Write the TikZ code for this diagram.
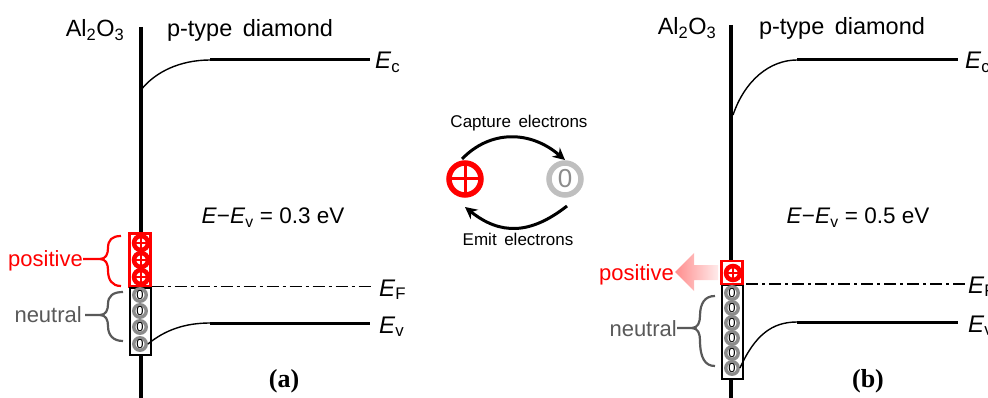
\documentclass[tikz,border=0pt]{standalone}
\usepackage{fontspec}
\setmainfont{Liberation Sans}
\newfontfamily\labelserif{Liberation Serif}
\usetikzlibrary{arrows.meta,shadings}
\definecolor{neutralgray}{RGB}{89,89,89}
\definecolor{ringgray}{RGB}{140,140,140}
\definecolor{lightring}{RGB}{191,191,191}
\tikzset{
  axisline/.style={line width=3.6pt,black},
  bandline/.style={line width=3pt,black},
  bandcurve/.style={line width=1.4pt,black},
  fermi/.style={line width=1.5pt,dash pattern=on 12pt off 4pt on 3pt off 4pt},
  redbox/.style={draw=red,line width=2.2pt,fill=white,inner sep=0pt},
  blackbox/.style={draw=black,line width=2pt,fill=white,inner sep=0pt},
  lbl/.style={font=\fontsize{22.5}{26}\selectfont,inner sep=0pt,anchor=base},
  sidelbl/.style={font=\fontsize{22}{26}\selectfont,inner sep=0pt,anchor=base east},
  head/.style={font=\fontsize{23.5}{28}\selectfont,inner sep=0pt,anchor=base},
  band/.style={font=\fontsize{24}{26}\selectfont,inner sep=0pt,anchor=base west},
  smalllbl/.style={font=\fontsize{17}{20}\selectfont,inner sep=0pt,anchor=base},
  panel/.style={font=\labelserif\bfseries\fontsize{26}{28}\selectfont,inner sep=0pt,anchor=base},
  posbubble/.style={circle,draw=red,line width=4.5pt,fill=white,minimum size=14pt,inner sep=0pt,
    path picture={\draw[red,line width=2.6pt] (path picture bounding box.north)--(path picture bounding box.south) (path picture bounding box.west)--(path picture bounding box.east);}},
  zerobubble/.style={circle,draw=ringgray,line width=3.4pt,fill=white,minimum size=12.5pt,inner sep=0pt,font=\fontsize{13}{13}\selectfont,text=black},
  bigpos/.style={circle,draw=red,line width=5.5pt,fill=white,minimum size=32pt,inner sep=0pt,
    path picture={\draw[red,line width=3pt] (path picture bounding box.north)--(path picture bounding box.south) (path picture bounding box.west)--(path picture bounding box.east);}},
  bigzero/.style={circle,draw=lightring,line width=5.5pt,fill=white,minimum size=32pt,inner sep=0pt,font=\fontsize{26}{26}\selectfont,text=ringgray},
  cyclearrow/.style={line width=3pt,black,-{Stealth[length=12pt,width=12pt]}},
  bracered/.style={red,line width=2.2pt},
  bracegray/.style={neutralgray,line width=2.2pt},
}
\newcommand{\Evar}[1]{\textit{E}\textsubscript{#1}}
\begin{document}
\begin{tikzpicture}[x=1pt,y=-1pt]
\useasboundingbox (0,0) rectangle (988,398);
% ---------- panel (a)
\draw[axisline] (141,27) -- (141,398);
\node[head] (a-al) at (95,37) {Al\textsubscript{2}O\textsubscript{3}};
\node[head] (a-pt) at (250,37) {p-type\, diamond};
\coordinate (a-c0) at (141,90); \coordinate (a-c1) at (210,60);
\node[band] (a-ec) at (375,69) {\Evar{c}};
\draw[bandcurve] (a-c0) .. controls (155,72) and (180,60) .. (a-c1);
\draw[bandline] (a-c1) -- ([xshift=-5pt]a-ec.west |- a-c1);
\node[lbl] (a-e) at (273,224) {\textit{E}−\Evar{v} = 0.3 eV};
\node[band] (a-ef) at (379,296) {\Evar{F}};
\node[band] (a-ev) at (379,333) {\Evar{v}};
\node[redbox,minimum width=21pt,minimum height=53pt] (a-rb) at (140,260) {};
\node[blackbox,minimum width=21pt,minimum height=67pt] (a-bb) at (140,321) {};
\draw[fermi] (a-bb.north east) -- ([xshift=-7pt]a-ef.west |- a-bb.north east);
\node[posbubble] (a-p1) at (141,243) {};
\node[posbubble] (a-p2) at (141,260) {};
\node[posbubble] (a-p3) at (141,277) {};
\node[zerobubble] (a-z1) at (140,295) {0};
\node[zerobubble] (a-z2) at (140,311) {0};
\node[zerobubble] (a-z3) at (140,327) {0};
\node[zerobubble] (a-z4) at (140,344) {0};
\coordinate (a-v1) at (210,323);
\draw[bandcurve] (a-z4.east) .. controls (165,330) and (185,323) .. (a-v1);
\draw[bandline] (a-v1) -- (370,323);
\node[sidelbl,text=red] (a-pos) at (83,266) {positive};
\node[sidelbl,text=neutralgray] (a-neu) at (82,322) {neutral};
\draw[bracered] (a-pos.east |- 0,259) -- (100,259) .. controls (106,259) and (108,254) .. (108,248) .. controls (108,240) and (112,236) .. (121,236);
\draw[bracered] (100,259) .. controls (106,259) and (108,264) .. (108,270) .. controls (108,280) and (112,286) .. (121,286);
\draw[bracegray] (85,315) -- (100,315) .. controls (106,315) and (108,310) .. (108,304) .. controls (108,296) and (113,292) .. (123,292);
\draw[bracegray] (100,315) .. controls (106,315) and (108,320) .. (108,326) .. controls (108,335) and (113,341) .. (123,341);
\node[panel] (a-lab) at (284,387) {(a)};
% ---------- centre
\node[bigpos] (c-p) at (465,179) {};
\node[bigzero] (c-z) at (565,179) {0};
\coordinate (c-ts) at (462,159); \coordinate (c-te) at (565,160);
\coordinate (c-bs) at (567,206); \coordinate (c-be) at (465,207);
\draw[cyclearrow] (c-ts) .. controls (490,130) and (530,130) .. (c-te);
\draw[cyclearrow] (c-bs) .. controls (530,235) and (500,235) .. (c-be);
\node[smalllbl] (c-cap) at (519,128) {Capture\, electrons};
\node[smalllbl] (c-emi) at (518,246) {Emit\, electrons};
% ---------- panel (b)
\draw[axisline] (731,25) -- (731,398);
\node[head] (b-al) at (687,35) {Al\textsubscript{2}O\textsubscript{3}};
\node[head] (b-pt) at (842,35) {p-type\, diamond};
\coordinate (b-c0) at (733,115); \coordinate (b-c1) at (797,60);
\node[band] (b-ec) at (965,69) {\Evar{c}};
\draw[bandcurve] (b-c0) .. controls (745,80) and (770,60) .. (b-c1);
\draw[bandline] (b-c1) -- (958,60);
\node[lbl] (b-e) at (858,224) {\textit{E}−\Evar{v} = 0.5 eV};
\node[band] (b-ef) at (968,293) {\Evar{F}};
\node[band] (b-ev) at (968,332) {\Evar{v}};
\node[blackbox,minimum width=21pt,minimum height=94pt] (b-bb) at (732,332) {};
\node[redbox,minimum width=21pt,minimum height=23pt] (b-rb) at (732,272.5) {};
\coordinate (b-fs) at (746,284);
\draw[fermi] (b-fs) -- (b-ef.west |- b-fs);
\node[posbubble] (b-p1) at (733,273) {};
\node[zerobubble] (b-z1) at (732,293) {0};
\node[zerobubble] (b-z2) at (732,308) {0};
\node[zerobubble] (b-z3) at (732,323) {0};
\node[zerobubble] (b-z4) at (732,338) {0};
\node[zerobubble] (b-z5) at (732,353) {0};
\node[zerobubble] (b-z6) at (732,368) {0};
\coordinate (b-v1) at (797,322);
\draw[bandcurve] (b-z6.east) .. controls (755,335) and (772,322) .. (b-v1);
\draw[bandline] (b-v1) -- (958,322);
\node[sidelbl,text=red] (b-pos) at (674,280) {positive};
\node[sidelbl,text=neutralgray] (b-neu) at (677,336) {neutral};
\shade[left color=red!45,right color=red!8] (675,272) -- (694,253) -- (694,265) -- (718,265) -- (718,280) -- (694,280) -- (694,291) -- cycle;
\draw[bracegray] (b-neu.east |- 0,328) -- (692,328) .. controls (698,328) and (700,322) .. (700,316) .. controls (700,303) and (705,296) .. (715,296);
\draw[bracegray] (692,328) .. controls (698,328) and (700,334) .. (700,340) .. controls (700,358) and (705,366) .. (715,366);
\node[panel] (b-lab) at (868,387) {(b)};
\end{tikzpicture}
\end{document}
